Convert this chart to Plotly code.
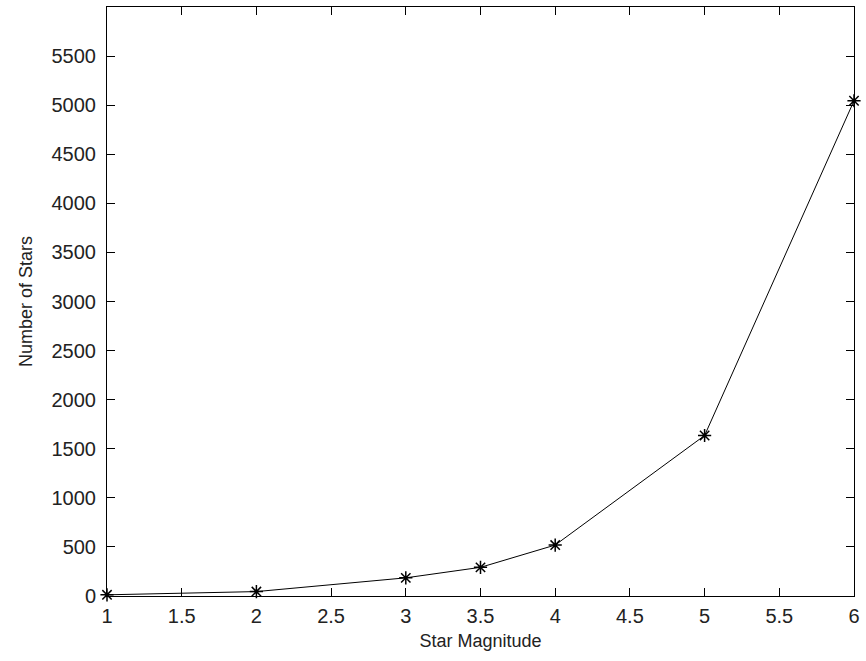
import plotly.graph_objects as go

magnitude = [1, 2, 3, 3.5, 4, 5, 6]
num_stars = [12, 45, 185, 292, 519, 1635, 5045]

x_ticks = [1, 1.5, 2, 2.5, 3, 3.5, 4, 4.5, 5, 5.5, 6]
y_ticks = list(range(0, 6000, 500))

FONT = "Liberation Sans, Arial"

fig = go.Figure()
fig.add_trace(go.Scatter(
    x=magnitude, y=num_stars, mode="lines+markers",
    line=dict(color="black", width=1),
    marker=dict(symbol="asterisk-open", size=11, color="black",
                line=dict(color="black", width=1.5)),
    cliponaxis=False,
))

axis_common = dict(
    showgrid=False, zeroline=False, showline=True, linecolor="black",
    linewidth=1, mirror="ticks", ticks="inside", ticklen=8, tickwidth=1,
    tickcolor="black", tickfont=dict(family=FONT, size=20, color="#222"),
)

fig.update_layout(
    width=866, height=661,
    margin=dict(l=107, r=8, t=6, b=65),
    paper_bgcolor="white", plot_bgcolor="white",
    showlegend=False,
    xaxis=dict(range=[1, 6], tickvals=x_ticks,
               ticktext=[f"{v:g}" for v in x_ticks],
               ticklabelstandoff=2,
               title=dict(text="Star Magnitude", standoff=8,
                          font=dict(family=FONT, size=18, color="#222")),
               **axis_common),
    yaxis=dict(range=[0, 6000], tickvals=y_ticks,
               ticktext=[str(v) for v in y_ticks],
               ticklabelstandoff=6,
               title=dict(text="Number of Stars", standoff=14,
                          font=dict(family=FONT, size=18, color="#222")),
               **axis_common),
)

fig.write_html("out.html")
